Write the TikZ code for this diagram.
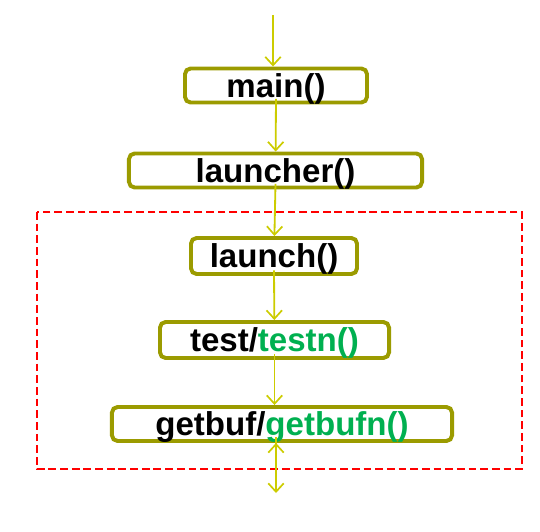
\documentclass[tikz,border=0pt]{standalone}
\usepackage{fontspec}
\setmainfont{Liberation Sans}
\usetikzlibrary{arrows.meta}
\definecolor{boxolive}{RGB}{155,155,0}
\definecolor{flowline}{RGB}{204,204,0}
\definecolor{fngreen}{RGB}{0,176,80}
\newcommand{\alt}[1]{\textcolor{fngreen}{#1}}

\begin{document}
\begin{tikzpicture}[>={Straight Barb[length=6pt, width=11pt, line width=1.2pt]}, x=0.025cm, y=-0.025cm, thick,
    fnbox/.style={draw=boxolive, line width=2.8pt, rounded corners=4pt, fill=white,
        inner sep=0pt, minimum height=0.85cm, text depth=0pt,
        font=\fontsize{23.5}{28}\selectfont\bfseries},
    flow/.style={draw=flowline, line width=1.3pt, ->}]
    \useasboundingbox (0,0) rectangle (540,532);

    \draw[red, line width=0.9pt, dash pattern=on 5.5pt off 2.8pt] (37,212) rectangle (522,469);

    \coordinate (top) at (273,15);
    \node[fnbox, minimum width=4.55cm] (main) at (276,85.5) {main()};
    \node[fnbox, minimum width=7.325cm] (launcher) at (275.5,170.5) {launcher()};
    \node[fnbox, minimum width=4.15cm, minimum height=0.9cm] (launch) at (274,256) {launch()};
    \node[fnbox, minimum width=5.725cm, minimum height=0.9cm] (test) at (274.5,340) {test/\alt{testn()}};
    \node[fnbox, minimum width=8.5cm] (getbuf) at (282,424) {getbuf/\alt{getbufn()}};
    \coordinate (bottom) at (276,493);

    \path[flow]
        (top) edge (top |- main.north)
        ([yshift=4pt]main.south) edge (launcher)
        ([yshift=4pt]launcher.south) edge (launch)
        ([yshift=4pt]launch.south) edge (test)
        ([yshift=4pt]test.south) edge (test.south |- getbuf.north)
        (getbuf.south -| bottom) edge[shorten <=-4pt] (bottom)
    ;
\end{tikzpicture}
\end{document}
